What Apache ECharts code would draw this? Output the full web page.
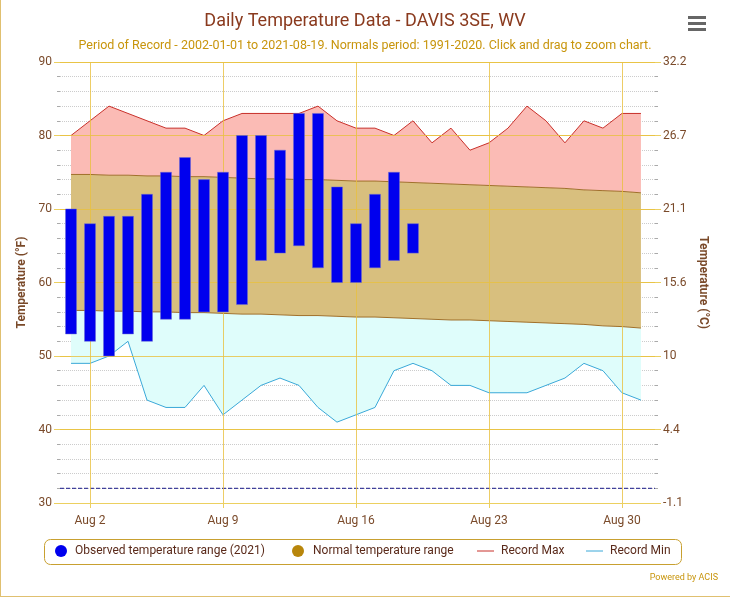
<!DOCTYPE html>
<html><head><meta charset="utf-8">
<script src="https://cdn.jsdelivr.net/npm/echarts@6/dist/echarts.min.js"></script>
<style>html,body{margin:0;padding:0;background:#fff}#c{width:730px;height:603px}</style>
</head><body><div id="c"></div>
<script>
const days = [1,2,3,4,5,6,7,8,9,10,11,12,13,14,15,16,17,18,19,20,21,22,23,24,25,26,27,28,29,30,31];
const recordMax = [80,82,84,83,82,81,81,80,82,83,83,83,83,84,82,81,81,80,82,79,81,78,79,81,84,82,79,82,81,83,83];
const recordMin = [49,49,50,52,44,43,43,46,42,44,46,47,46,43,41,42,43,48,49,48,46,46,45,45,45,46,47,49,48,45,44];
const normalMax = [74.7,74.7,74.6,74.6,74.5,74.5,74.4,74.4,74.3,74.2,74.1,74.1,74.0,74.0,73.9,73.8,73.8,73.7,73.6,73.5,73.4,73.3,73.2,73.1,73.0,72.9,72.8,72.6,72.5,72.4,72.2];
const normalMin = [56.2,56.2,56.1,56.1,56.0,56.0,55.9,55.9,55.8,55.7,55.7,55.6,55.5,55.5,55.4,55.3,55.3,55.2,55.1,55.0,54.9,54.9,54.8,54.7,54.6,54.5,54.4,54.3,54.1,54.0,53.8];
const obsHigh = [70,68,69,69,72,75,77,74,75,80,80,78,83,83,73,68,72,75,68];
const obsLow  = [53,52,50,53,52,55,55,56,56,57,63,64,65,62,60,60,62,63,64];
const xTicks = [2,9,16,23,30];
const yTicks = [40,50,60,70,80,90];

const pair = (arr)=>arr.map((v,i)=>[days[i],v]);
const gridCol = '#ecd060';
const brown = '#7a4a2a';
function band(lower, upper, color){
  return {type:'custom',silent:true,data:[[days[0],lower[0],upper[0]]],encode:{x:0,y:[1,2]},z:1,
    renderItem:(p,api)=>{
      const pts=[];
      for(let i=0;i<days.length;i++) pts.push(api.coord([days[i],upper[i]]));
      for(let i=days.length-1;i>=0;i--) pts.push(api.coord([days[i],lower[i]]));
      return {type:'polygon',shape:{points:pts},style:{fill:color}};
    }};
}
const chart = echarts.init(document.getElementById('c'));
chart.setOption({
  animation:false,
  title:{text:'Daily Temperature Data - DAVIS 3SE, WV',left:'center',top:7,
    textStyle:{color:'#8a3a1e',fontSize:18,fontWeight:'normal',fontFamily:'Roboto'},
    subtext:'Period of Record - 2002-01-01 to 2021-08-19. Normals period: 1991-2020. Click and drag to zoom chart.',
    subtextStyle:{color:'#c8950c',fontSize:12.5,fontFamily:'Roboto'},itemGap:9},
  grid:{left:60,right:75,top:62,bottom:100},
  xAxis:{type:'value',min:0.42,max:31.74,
    axisLine:{show:true,lineStyle:{color:gridCol}},
    axisTick:{show:true,customValues:xTicks,lineStyle:{color:gridCol}},
    axisLabel:{customValues:xTicks,formatter:v=>'Aug '+v,color:brown,fontSize:12,fontFamily:'Roboto',margin:12},
    splitLine:{show:false}},
  yAxis:[{type:'value',min:30,max:90,interval:10,
    name:'Temperature (°F)',nameLocation:'middle',nameGap:27,nameRotate:90,
    nameTextStyle:{color:brown,fontWeight:'bold',fontSize:12,fontFamily:'Roboto'},
    axisLabel:{color:brown,fontSize:12,fontFamily:'Roboto'},
    axisTick:{show:true,length:6,lineStyle:{color:gridCol}},
    axisLine:{show:false},
    minorTick:{show:true,splitNumber:5,length:3,lineStyle:{color:'#aaa'}},
    splitLine:{lineStyle:{color:gridCol}},
    minorSplitLine:{show:true,lineStyle:{color:'#ccc',type:'dotted'}}},
   {type:'value',min:30,max:90,interval:10,position:'right',
    name:'Temperature (°C)',nameLocation:'middle',nameGap:33,nameRotate:-90,
    nameTextStyle:{color:brown,fontWeight:'bold',fontSize:12,fontFamily:'Roboto'},
    axisLabel:{color:brown,fontSize:12,fontFamily:'Roboto',formatter:v=>{const c=(v-32)*5/9;return (Math.round(c*10)/10).toString();}},
    axisTick:{show:true,length:6,lineStyle:{color:gridCol}},
    minorTick:{show:true,splitNumber:5,length:3,lineStyle:{color:'#aaa'}},
    axisLine:{show:false},splitLine:{show:false}}],
  legend:{show:false},
  series:[
    band(recordMin, normalMin, '#dffdfb'),
    band(normalMin, normalMax, '#d8bf7e'),
    band(normalMax, recordMax, '#fbbbb5'),
    {type:'line',data:pair(normalMax),symbol:'none',z:3,lineStyle:{color:'#a0702a',width:1},
      markLine:{symbol:'none',silent:true,label:{show:false},lineStyle:{color:'#e8c040',type:'solid',width:1,opacity:0.8},
        data:xTicks.map(d=>({xAxis:d})).concat(yTicks.map(v=>({yAxis:v})))}},
    {type:'line',data:pair(normalMin),symbol:'none',z:3,lineStyle:{color:'#a0702a',width:1}},
    {type:'line',data:pair(recordMax),symbol:'none',z:3,lineStyle:{color:'#c8302a',width:1}},
    {type:'line',data:pair(recordMin),symbol:'none',z:3,lineStyle:{color:'#3aa8d8',width:1}},
    {type:'line',data:[[0.42,32],[31.74,32]],symbol:'none',z:3,lineStyle:{color:'#1a1a8a',type:'dashed',width:1}},
    {type:'custom',z:5,data:obsHigh.map((h,i)=>[days[i],obsLow[i],h]),
      renderItem:(p,api)=>{const a=api.coord([api.value(0),api.value(2)]);const b=api.coord([api.value(0),api.value(1)]);
        return {type:'rect',shape:{x:a[0]-5.5,y:a[1],width:11,height:b[1]-a[1]},style:{fill:'#0000ee',stroke:'#6a6ad0',lineWidth:0.5}};},
      encode:{x:0,y:[1,2]}}
  ],
  graphic:[
    {type:'rect',left:44,top:539,shape:{width:637,height:25,r:6},style:{fill:'#fff',stroke:'#c8a030',lineWidth:1}},
    {type:'circle',shape:{cx:61,cy:551,r:6},style:{fill:'#0000ee'}},
    {type:'text',left:75,top:545,style:{text:'Observed temperature range (2021)',fill:'#5a2a1a',font:'12px Roboto'}},
    {type:'circle',shape:{cx:298,cy:551,r:6},style:{fill:'#b8860b'}},
    {type:'text',left:313,top:545,style:{text:'Normal temperature range',fill:'#5a2a1a',font:'12px Roboto'}},
    {type:'line',shape:{x1:477,y1:551,x2:494,y2:551},style:{stroke:'#c8302a',lineWidth:1}},
    {type:'text',left:501,top:545,style:{text:'Record Max',fill:'#5a2a1a',font:'12px Roboto'}},
    {type:'line',shape:{x1:586,y1:551,x2:603,y2:551},style:{stroke:'#3aa8d8',lineWidth:1}},
    {type:'text',left:610,top:545,style:{text:'Record Min',fill:'#5a2a1a',font:'12px Roboto'}},
    {type:'text',right:12,top:573,style:{text:'Powered by ACIS',fill:'#c8950c',font:'9px Roboto'}},
    {type:'rect',left:688,top:16,shape:{width:18,height:3},style:{fill:'#666'}},
    {type:'rect',left:688,top:22,shape:{width:18,height:3},style:{fill:'#666'}},
    {type:'rect',left:688,top:28,shape:{width:18,height:3},style:{fill:'#666'}},
    {type:'line',shape:{x1:0.5,y1:0,x2:0.5,y2:596},style:{stroke:'#e0c070',lineWidth:1}},
    {type:'line',shape:{x1:0,y1:596.5,x2:730,y2:596.5},style:{stroke:'#e0c070',lineWidth:1}}
  ]
});
</script></body></html>
